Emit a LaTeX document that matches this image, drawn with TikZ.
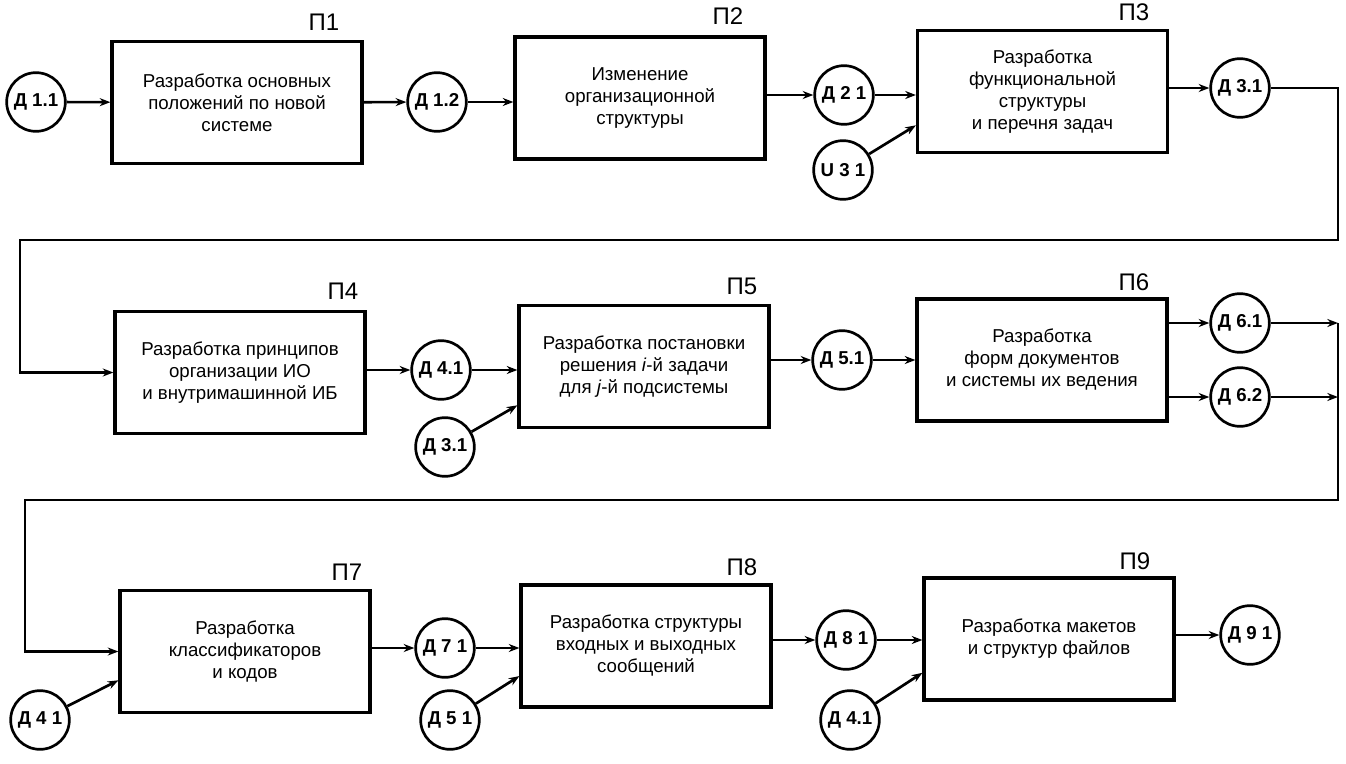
\documentclass[tikz,border=0pt]{standalone}
\usepackage{fontspec}
\setmainfont{Liberation Sans}
\usetikzlibrary{arrows.meta,calc}

\tikzset{every picture/.style={line width=0.75pt}}

\begin{document}
\begin{tikzpicture}[x=0.75pt,y=0.75pt,yscale=-1,xscale=1,
	proc/.style={draw, line width=2.4pt, minimum width=187.5pt, minimum height=91.5pt, align=center, font=\fontsize{14}{16.5}\selectfont},
	dat/.style={draw, circle, line width=2pt, minimum size=44pt, inner sep=0pt, font=\bfseries\fontsize{14}{14}\selectfont},
	plab/.style={font=\fontsize{18}{18}\selectfont},
	lin/.style={line width=2pt},
	arr/.style={line width=2pt, -{Stealth[length=8pt,width=6pt]}}]
	\useasboundingbox (0,0) rectangle (1346,764);

	%Shape: Rectangle [row 1]
	\node[proc] (p1) at (237,102.5) {Разработка основных\\положений по новой\\системе};
	\node[proc] (p2) at (640,98) {Изменение\\организационной\\структуры};
	\node[proc] (p3) at (1042.5,91.5) {Разработка\\функциональной\\структуры\\и перечня задач};
	%Shape: Circle [row 1]
	\node[dat] (d11) at (36,102) {Д 1.1};
	\node[dat] (d12) at (437,102) {Д 1.2};
	\node[dat] (d21) at (844,95) {Д 2 1};
	\node[dat] (u31) at (843,170) {U 3 1};
	\node[dat] (d31) at (1240,88) {Д 3.1};

	%Shape: Rectangle [row 2]
	\node[proc] (p4) at (240,372.5) {Разработка принципов\\организации ИО\\и внутримашинной ИБ};
	\node[proc] (p5) at (644,366.5) {Разработка постановки\\решения \textit{i}-й задачи\\для \textit{j}-й подсистемы};
	\node[proc] (p6) at (1042,360) {Разработка\\форм документов\\и системы их ведения};
	%Shape: Circle [row 2]
	\node[dat] (d41) at (441,370) {Д 4.1};
	\node[dat] (d31b) at (445,447) {Д 3.1};
	\node[dat] (d51) at (842,360) {Д 5.1};
	\node[dat] (d61) at (1240,323) {Д 6.1};
	\node[dat] (d62) at (1240,397) {Д 6.2};

	%Shape: Rectangle [row 3]
	\node[proc] (p7) at (245,651.5) {Разработка\\классификаторов\\и кодов};
	\node[proc] (p8) at (646,646) {Разработка структуры\\входных и выходных\\сообщений};
	\node[proc] (p9) at (1049,639) {Разработка макетов\\и структур файлов};
	%Shape: Circle [row 3]
	\node[dat] (d41a) at (40,720) {Д 4 1};
	\node[dat] (d71) at (445,648) {Д 7 1};
	\node[dat] (d51b) at (450,720) {Д 5 1};
	\node[dat] (d81) at (846,640) {Д 8 1};
	\node[dat] (d41b) at (850,720) {Д 4.1};
	\node[dat] (d91) at (1250,635) {Д 9 1};

	% Text Node
	\node[plab] (t1) at (324,22) {П1};
	% Text Node
	\node[plab] (t2) at (728,16) {П2};
	% Text Node
	\node[plab] (t3) at (1134,12) {П3};
	% Text Node
	\node[plab] (t4) at (343,291) {П4};
	% Text Node
	\node[plab] (t5) at (742,286) {П5};
	% Text Node
	\node[plab] (t6) at (1134,282) {П6};
	% Text Node
	\node[plab] (t7) at (347,572) {П7};
	% Text Node
	\node[plab] (t8) at (742,567) {П8};
	% Text Node
	\node[plab] (t9) at (1135,561) {П9};

	%Straight Lines [row 1]
	\draw[arr] (d11) -- (p1);
	\draw[arr] (p1) -- (d12);
	\draw[arr] (d12) -- (p2.west |- d12);
	\draw[arr] (p2.east |- d21) -- (d21);
	\draw[arr] (d21) -- (p3.west |- d21);
	\draw[arr] (u31) -- ($(p3.south west)!0.23!(p3.north west)$);
	\draw[arr] (p3.east |- d31) -- (d31);
	%Straight Lines [row 1 to row 2]
	\coordinate (c1) at (1338,240);
	\coordinate (c2) at (20,240);
	\draw[arr] (d31) -| (c1) -- (c2) |- (p4);

	%Straight Lines [row 2]
	\draw[arr] (p4.east |- d41) -- (d41);
	\draw[arr] (d41) -- (p5.west |- d41);
	\draw[arr] (d31b) -- ($(p5.south west)!0.19!(p5.north west)$);
	\draw[arr] (p5.east |- d51) -- (d51);
	\draw[arr] (d51) -- (p6);
	\draw[arr] (p6.east |- d61) -- (d61);
	\draw[arr] (p6.east |- d62) -- (d62);
	\coordinate (e1) at (1338,323);
	\coordinate (e2) at (1338,397);
	\draw[arr] (d61) -- (e1);
	\draw[arr] (d62) -- (e2);
	%Straight Lines [row 2 to row 3]
	\coordinate (c4) at (25,500);
	\draw[lin] ([yshift=4pt]e1) -- (e1);
	\draw[arr] (e1) |- (c4) |- (p7);

	%Straight Lines [row 3]
	\draw[arr] (d41a) -- ($(p7.south west)!0.27!(p7.north west)$);
	\draw[arr] (p7.east |- d71) -- (d71);
	\draw[arr] (d71) -- (p8.west |- d71);
	\draw[arr] (d51b) -- ($(p8.south west)!0.26!(p8.north west)$);
	\draw[arr] (p8.east |- d81) -- (d81);
	\draw[arr] (d81) -- (p9.west |- d81);
	\draw[arr] (d41b) -- ($(p9.south west)!0.23!(p9.north west)$);
	\draw[arr] (p9.east |- d91) -- (d91);

\end{tikzpicture}
\end{document}
